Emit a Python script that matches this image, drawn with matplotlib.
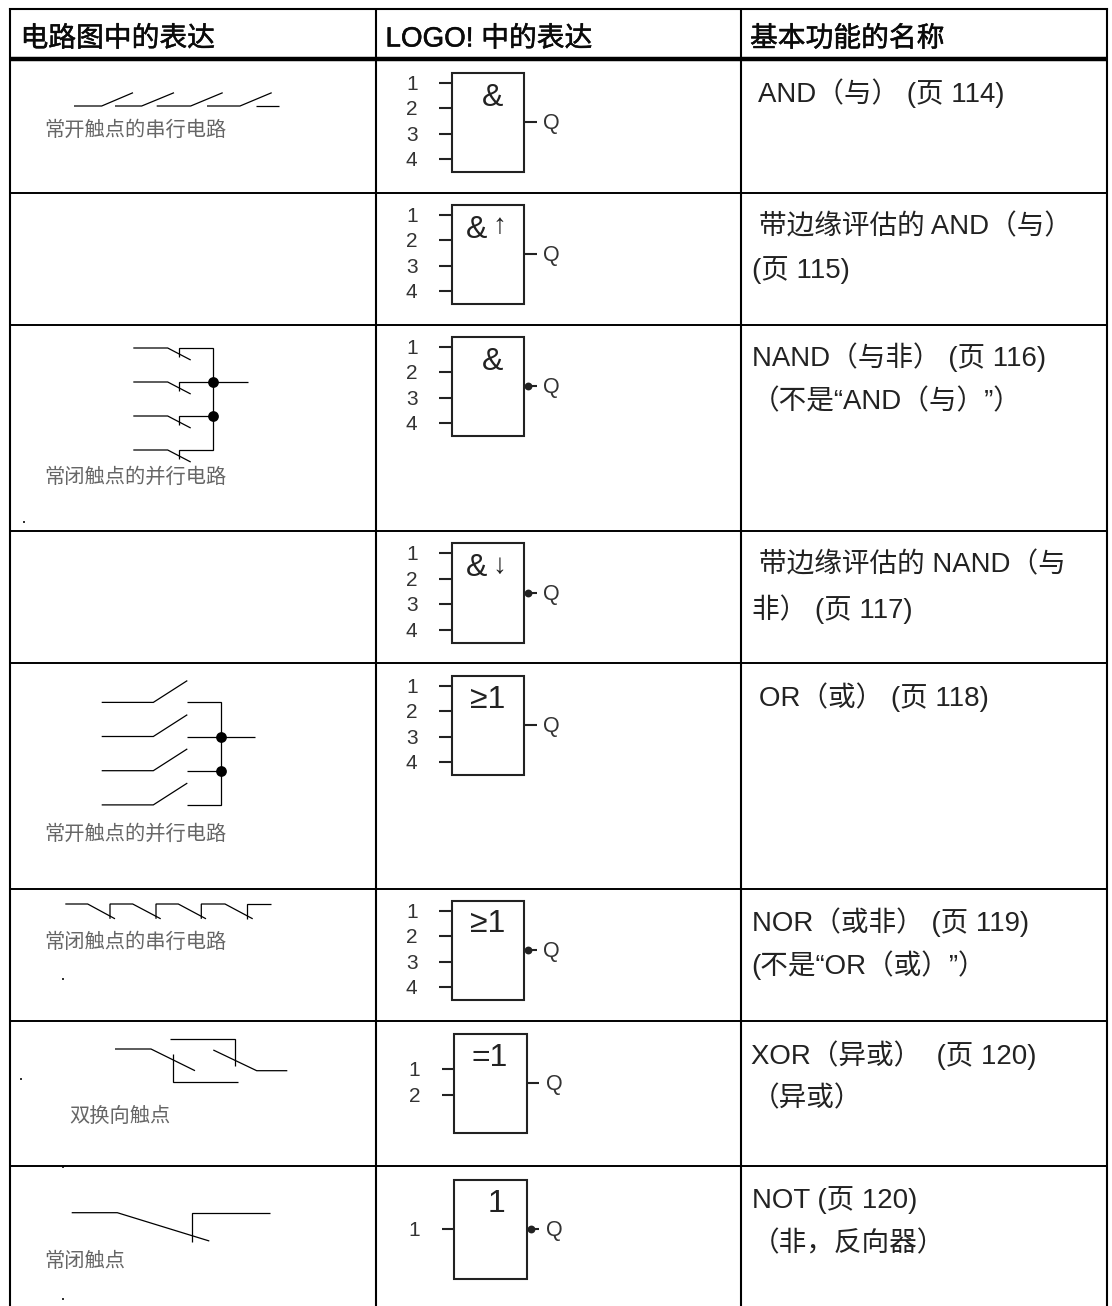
import matplotlib
matplotlib.use('Agg')
import matplotlib.pyplot as plt
import matplotlib.patheffects as pe

plt.rcParams['font.family'] = ['Liberation Sans', 'Noto Sans CJK SC', 'DejaVu Sans']

# table grid (pixels of the 1112x1306 page)
col_x = [10, 376, 741, 1106.5]
row_y = [192.5, 324.5, 530.5, 662.5, 888.5, 1020.5, 1165.5]
top_y = 9
head_y = 59
bottom_y = 1306

headers = ['电路图中的表达', 'LOGO! 中的表达', '基本功能的名称']
header_x = [20.5, 385.5, 750]
header_base = 46.5

# third column: text, x, baseline
name_text = ['AND（与） (页 114)',
             '带边缘评估的 AND（与）', '(页 115)',
             'NAND（与非） (页 116)', '（不是“AND（与）”）',
             '带边缘评估的 NAND（与', '非） (页 117)',
             'OR（或） (页 118)',
             'NOR（或非） (页 119)', '(不是“OR（或）”）',
             'XOR（异或）  (页 120)', '（异或）',
             'NOT (页 120)', '（非，反向器）']
name_x = [758, 759, 751.5, 751.5, 751.5, 759, 752, 759, 751.5, 751.5, 751, 751.5, 751.5, 751.5]
name_base = [102.5, 234.5, 277.5, 366, 409.5, 572.5, 617.5, 705.5, 931, 974.5, 1063.5, 1106, 1207.5, 1251]

# first column captions
cap_text = ['常开触点的串行电路', '常闭触点的并行电路', '常开触点的并行电路', '常闭触点的串行电路', '双换向触点', '常闭触点']
cap_x = [44, 44, 44, 44, 69, 44]
cap_y = [130, 477.5, 834.5, 942, 1116.5, 1261]

# wires of the contact drawings
wires = [
    # series NO
    [(74, 106), (101.7, 106), (133, 92.7)],
    [(115, 106), (141.7, 106), (174, 92.7)],
    [(156.7, 106), (190.7, 106), (222.7, 92.7)],
    [(207, 106), (240, 106), (271.7, 92.7)],
    [(256, 106), (279, 106)],
    # parallel NC
    [(133.3, 348), (167.7, 348), (190.7, 360)],
    [(133.3, 382), (167.7, 382), (190.7, 394)],
    [(133.3, 416), (167.7, 416), (190.7, 428)],
    [(133.3, 450), (167.7, 450), (190.7, 462)],
    [(179, 357), (179, 348), (213.3, 348), (213.3, 450), (179, 450), (179, 459)],
    [(179, 391), (179, 382), (247.7, 382)],
    [(179, 425), (179, 416), (213.3, 416)],
    # parallel NO
    [(101.7, 702.4), (153.3, 702.4), (187.3, 680.6)],
    [(101.7, 736.5), (153.3, 736.5), (187.3, 714.7)],
    [(101.7, 770.7), (153.3, 770.7), (187.3, 748.9)],
    [(101.7, 804.9), (153.3, 804.9), (187.3, 783.1)],
    [(186.7, 702.4), (221, 702.4), (221, 804.9), (186.7, 804.9)],
    [(186.7, 736.5), (255, 736.5)],
    [(186.7, 770.7), (221, 770.7)],
    # series NC
    [(65.3, 904), (87.7, 904), (115, 918.8)],
    [(110, 918.8), (110, 904), (132.7, 904), (160.7, 918.8)],
    [(156, 918.8), (156, 904), (178.3, 904), (206, 918.8)],
    [(201.3, 918.8), (201.3, 904), (225, 904), (252.7, 918.8)],
    [(247.3, 918.8), (247.3, 904), (270.7, 904)],
    # changeover
    [(115, 1049), (151, 1049), (195, 1070.7)],
    [(172.7, 1054), (172.7, 1081.8), (237.7, 1081.8)],
    [(170, 1039), (235, 1039), (235, 1066)],
    [(213.3, 1050), (256.7, 1070.7), (287.3, 1070.7)],
    # single NC
    [(71.7, 1212.7), (117.3, 1212.7), (209.3, 1241)],
    [(192.3, 1242), (192.3, 1212.7), (270, 1212.7)],
]
junction_x = [213.3, 213.3, 221, 221]
junction_y = [382, 416, 736.5, 770.7]
speck_x = [24.3, 62.7, 20.7, 63.3, 63.3]
speck_y = [521.7, 979, 1079, 1167, 1298.7]

# LOGO! blocks
block_left = [451.7, 451.7, 451.7, 451.7, 451.7, 451.7, 454.4, 454.4]
block_top = [72.7, 204.7, 336.7, 543.3, 675.7, 900.7, 1033.7, 1180]
block_w = 72.6
block_h = 99.3
block_title = ['&', '&', '&', '&', '≥1', '≥1', '=1', '1']
title_x = [492.7, 476.7, 492.7, 476.7, 487.5, 487.5, 490, 496.7]
title_y = [97.5, 229.5, 361.5, 568, 699.5, 924.5, 1057.5, 1203.5]
arrow_text = [None, '↑', None, '↓', None, None, None, None]
arrow_y = [0, 226.5, 0, 566.5, 0, 0, 0, 0]
inputs_rel = [[10, 35.6, 61, 86.6]] * 6 + [[35.3, 61]] + [[49.3]]
output_rel = [49.6, 49.6, 49.6, 49.6, 49.3, 49.6, 49.3, 49.3]
inverted = [False, False, True, True, False, True, False, True]
input_names = ['1', '2', '3', '4']

line_col = 'black'
block_col = '#222222'
text_col = '#333333'

fig = plt.figure(figsize=(11.12, 13.06), dpi=100)
ax = fig.add_axes([0, 0, 1, 1])
ax.set_xlim(0, 1112)
ax.set_ylim(1306, 0)
ax.axis('off')

# grid
for x in col_x:
    ax.plot([x, x], [top_y - 1, bottom_y], color=line_col, lw=1.5, solid_capstyle='butt')
ax.plot([col_x[0], col_x[-1]], [top_y, top_y], color=line_col, lw=1.5)
ax.plot([col_x[0], col_x[-1]], [head_y, head_y], color=line_col, lw=3.2, solid_capstyle='butt')
for y in row_y:
    ax.plot([col_x[0], col_x[-1]], [y, y], color=line_col, lw=1.4, solid_capstyle='butt')

# header and names
for s, x in zip(headers, header_x):
    ax.text(x, header_base, s, fontsize=20, color='#0a0a0a', va='baseline', ha='left',
            path_effects=[pe.withStroke(linewidth=0.35, foreground='#0a0a0a')])
for s, x, y in zip(name_text, name_x, name_base):
    ax.text(x, y, s, fontsize=19.9, color='#222222', va='baseline', ha='left')

# contact drawings
for w in wires:
    ax.plot([p[0] for p in w], [p[1] for p in w], color=line_col, lw=0.9,
            solid_joinstyle='miter', solid_capstyle='butt')
ax.scatter(junction_x, junction_y, s=60, color=line_col, linewidths=0, zorder=3)
ax.scatter(speck_x, speck_y, s=2, color='#333333', linewidths=0, marker='s')
for s, x, y in zip(cap_text, cap_x, cap_y):
    ax.text(x, y, s, fontsize=14.6, color='#666666', va='center', ha='left')

# LOGO! blocks
for i in range(len(block_top)):
    x0 = block_left[i]
    y0 = block_top[i]
    x1 = x0 + block_w
    ax.add_patch(plt.Rectangle((x0, y0), block_w, block_h, fill=False, edgecolor=block_col, lw=1.5))
    for k, rel in enumerate(inputs_rel[i]):
        ax.plot([x0 - 12.4, x0], [y0 + rel, y0 + rel], color=block_col, lw=1.5, solid_capstyle='butt')
        ax.text(x0 - 40, y0 + rel + 1.5, input_names[k], fontsize=15, color=text_col, va='center', ha='center')
    yo = y0 + output_rel[i]
    ax.plot([x1, x1 + 12.4], [yo, yo], color=block_col, lw=1.5, solid_capstyle='butt')
    if inverted[i]:
        ax.scatter([x1 + 4], [yo], s=32, color=block_col, linewidths=0, zorder=3)
    ax.text(x1 + 27.4, yo + 1.5, 'Q', fontsize=15.5, color=text_col, va='center', ha='center')
    ax.text(title_x[i], title_y[i], block_title[i], fontsize=23, color=block_col, va='center', ha='center')
    if arrow_text[i]:
        ax.text(499, arrow_y[i], arrow_text[i], fontsize=20, color=block_col, va='center', ha='center')

plt.savefig('out.png', dpi=100)
